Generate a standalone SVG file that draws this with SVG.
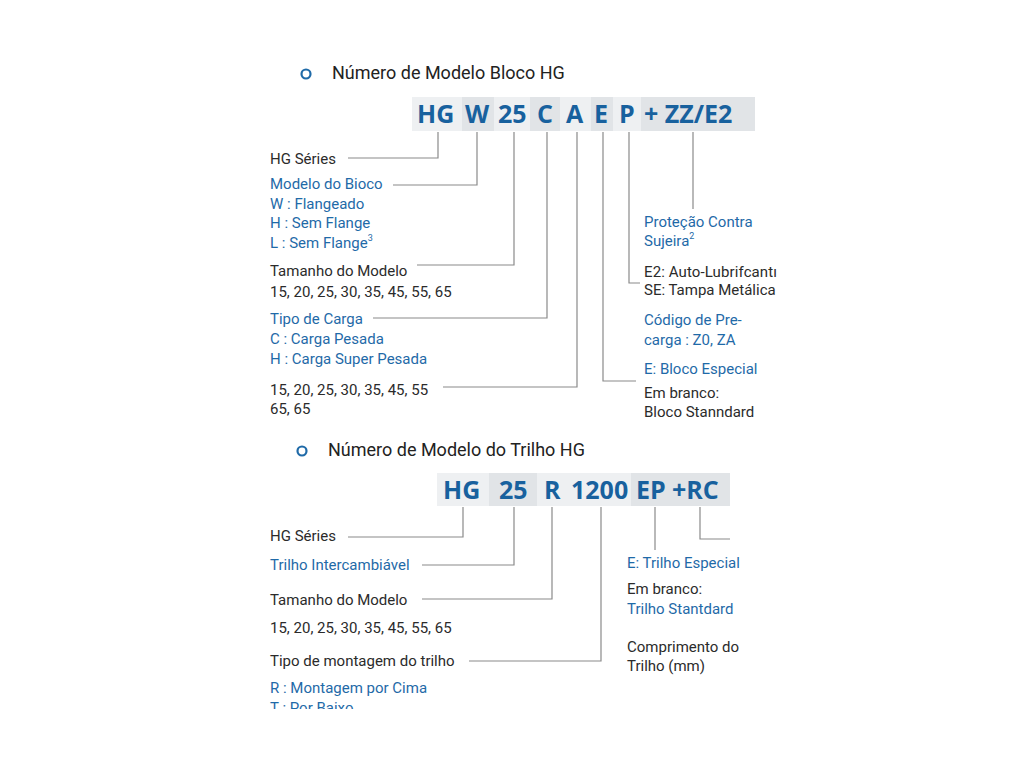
<svg xmlns="http://www.w3.org/2000/svg" width="1024" height="768" viewBox="0 0 1024 768">
<style>
text{font-family:"Roboto","Liberation Sans",sans-serif;font-size:15px}
.k{fill:#2b2b2b}.b{fill:#1f6aa8}
.h{font-size:18px;fill:#222}
.c{font-size:25px;font-weight:bold;fill:#18619e;font-family:"Open Sans","Liberation Sans",sans-serif}
.l1{fill:#eef0f2}.l2{fill:#e1e4e7}
.ln{fill:none;stroke:#8a8a8a;stroke-width:1.2}
.bul{fill:none;stroke:#1f6aa8;stroke-width:2.2}
sup{}
</style>
<defs><clipPath id="cut"><rect x="0" y="0" width="1024" height="709"/></clipPath></defs>
<rect width="1024" height="768" fill="#fff"/>
<g id="title1"><circle class="bul" cx="306" cy="74" r="4.5"/><text class="h" x="332" y="79">Número de Modelo Bloco HG</text></g>
<g id="code1">
<rect class="l1" x="412" y="97" width="50" height="34"/><rect class="l2" x="462" y="97" width="32" height="34"/>
<rect class="l1" x="494" y="97" width="36" height="34"/><rect class="l2" x="530" y="97" width="30" height="34"/>
<rect class="l1" x="560" y="97" width="31" height="34"/><rect class="l2" x="591" y="97" width="22" height="34"/>
<rect class="l1" x="613" y="97" width="28" height="34"/><rect class="l2" x="641" y="97" width="114" height="34"/>
<text class="c" x="417" y="123">HG</text><text class="c" x="465" y="123">W</text><text class="c" x="498" y="123">25</text>
<text class="c" x="537" y="123">C</text><text class="c" x="566" y="123">A</text><text class="c" x="594" y="123">E</text>
<text class="c" x="619" y="123">P</text><text class="c" x="644" y="123">+ ZZ/E2</text>
</g>
<g id="connectors">
<path class="ln" d="M348 158H438V132"/>
<path class="ln" d="M393 185H477V132"/>
<path class="ln" d="M417 265H514V132"/>
<path class="ln" d="M373 318H547V132"/>
<path class="ln" d="M443 387H577V132"/>
<path class="ln" d="M603 132V381H636"/>
<path class="ln" d="M629 132V283H640"/>
<path class="ln" d="M693 132V209"/>
<path class="ln" d="M348 537H463V507"/>
<path class="ln" d="M422 565H514V507"/>
<path class="ln" d="M422 599H552V507"/>
<path class="ln" d="M469 661H601V507"/>
<path class="ln" d="M655 507V550"/>
<path class="ln" d="M700 507V539H730"/>
</g>
<g id="left1">
<text class="k" x="270" y="164">HG Séries</text>
<text class="b" x="270" y="189">Modelo do Bioco</text>
<text class="b" x="270" y="209">W : Flangeado</text>
<text class="b" x="270" y="228">H : Sem Flange</text>
<text class="b" x="270" y="248">L : Sem Flange<tspan font-size="9" dy="-7">3</tspan></text>
<text class="k" x="270" y="276">Tamanho do Modelo</text>
<text class="k" x="270" y="297">15, 20, 25, 30, 35, 45, 55, 65</text>
<text class="b" x="270" y="324">Tipo de Carga</text>
<text class="b" x="270" y="344">C : Carga Pesada</text>
<text class="b" x="270" y="364">H : Carga Super  Pesada</text>
<text class="k" x="270" y="395">15, 20, 25, 30, 35, 45, 55</text>
<text class="k" x="270" y="414">65, 65</text>
</g>
<g id="right1">
<text class="b" x="644" y="227">Proteção Contra</text>
<text class="b" x="644" y="246">Sujeira<tspan font-size="9" dy="-7">2</tspan></text>
<text class="k" x="644" y="277" textLength="133">E2: Auto-Lubrifcantı</text>
<text class="k" x="644" y="295">SE: Tampa Metálica</text>
<text class="b" x="644" y="325">Código de Pre-</text>
<text class="b" x="644" y="345">carga : Z0, ZA</text>
<text class="b" x="644" y="374">E: Bloco Especial</text>
<text class="k" x="644" y="398">Em branco:</text>
<text class="k" x="644" y="417">Bloco Stanndard</text>
</g>
<g id="title2"><circle class="bul" cx="302" cy="451" r="4.5"/><text class="h" x="328" y="456">Número de Modelo do Trilho HG</text></g>
<g id="code2">
<rect class="l1" x="437" y="473" width="52" height="33"/><rect class="l2" x="489" y="473" width="48" height="33"/>
<rect class="l1" x="537" y="473" width="94" height="33"/><rect class="l2" x="631" y="473" width="99" height="33"/>
<text class="c" x="443" y="499">HG</text><text class="c" x="499" y="499">25</text><text class="c" x="544" y="499">R</text>
<text class="c" x="571" y="499">1200</text><text class="c" x="636" y="499">EP</text><text class="c" x="672" y="499">+RC</text>
</g>
<g id="left2" clip-path="url(#cut)">
<text class="k" x="270" y="541">HG Séries</text>
<text class="b" x="270" y="570">Trilho Intercambiável</text>
<text class="k" x="270" y="605">Tamanho do Modelo</text>
<text class="k" x="270" y="633">15, 20, 25, 30, 35, 45, 55, 65</text>
<text class="k" x="270" y="666">Tipo de montagem do trilho</text>
<text class="b" x="270" y="693">R : Montagem por Cima</text>
<text class="b" x="270" y="713">T : Por Baixo</text>
</g>
<g id="right2">
<text class="b" x="627" y="568">E: Trilho Especial</text>
<text class="k" x="627" y="594">Em branco:</text>
<text class="b" x="627" y="614">Trilho Stantdard</text>
<text class="k" x="627" y="652">Comprimento do</text>
<text class="k" x="627" y="671">Trilho (mm)</text>
</g>
</svg>
